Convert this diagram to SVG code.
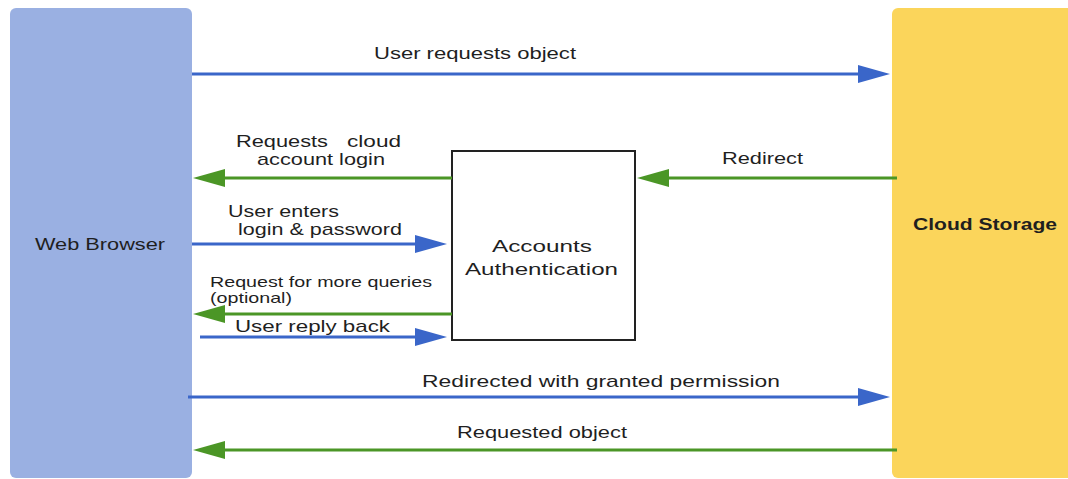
<svg xmlns="http://www.w3.org/2000/svg" width="1068" height="479" viewBox="0 0 1068 479">
  <style>
    text { font-family: "Liberation Sans", Arial, sans-serif; fill: #1f1f1f; }
    .lbl { font-size: 17px; }
    .sm { font-size: 14.5px; }
    .bold { font-weight: bold; }
    .blue { stroke: #3a66c9; stroke-width: 3; fill: none; }
    .green { stroke: #4b9626; stroke-width: 3; fill: none; }
  </style>
  <defs>
    <marker id="headBlue" markerUnits="userSpaceOnUse" markerWidth="32" markerHeight="18" refX="22" refY="9" orient="auto">
      <path d="M0,0 L32,9 L0,18 Z" fill="#3a66c9"/>
    </marker>
    <marker id="headGreen" markerUnits="userSpaceOnUse" markerWidth="32" markerHeight="18" refX="22" refY="9" orient="auto">
      <path d="M0,0 L32,9 L0,18 Z" fill="#4b9626"/>
    </marker>
  </defs>

  <rect width="1068" height="479" fill="#ffffff"/>

  <g id="web-browser">
    <rect x="10" y="8" width="182" height="470" rx="6" fill="#9ab0e2"/>
    <text class="lbl" x="35" y="250" textLength="130" lengthAdjust="spacingAndGlyphs">Web Browser</text>
  </g>

  <g id="cloud-storage">
    <rect x="892" y="8" width="190" height="470" rx="6" fill="#fbd55b"/>
    <text class="lbl bold" x="913" y="230" textLength="144" lengthAdjust="spacingAndGlyphs">Cloud Storage</text>
  </g>

  <g id="accounts-authentication">
    <rect x="452" y="151" width="183" height="189" fill="#ffffff" stroke="#222222" stroke-width="2"/>
    <text class="lbl" x="492" y="252" textLength="100" lengthAdjust="spacingAndGlyphs">Accounts</text>
    <text class="lbl" x="465" y="275" textLength="153" lengthAdjust="spacingAndGlyphs">Authentication</text>
  </g>

  <g id="connectors">
    <!-- browser asks storage for the object -->
    <line class="blue" x1="192" y1="74" x2="880" y2="74" marker-end="url(#headBlue)"/>
    <text class="lbl" x="374" y="59" textLength="202" lengthAdjust="spacingAndGlyphs">User requests object</text>

    <!-- storage redirects to authentication -->
    <line class="green" x1="897" y1="178" x2="647" y2="178" marker-end="url(#headGreen)"/>
    <text class="lbl" x="722" y="164" textLength="81" lengthAdjust="spacingAndGlyphs">Redirect</text>

    <!-- authentication asks for login -->
    <line class="green" x1="452" y1="178" x2="203" y2="178" marker-end="url(#headGreen)"/>
    <text class="lbl" y="147"><tspan x="236" textLength="92" lengthAdjust="spacingAndGlyphs">Requests</tspan><tspan x="347" textLength="54" lengthAdjust="spacingAndGlyphs">cloud</tspan></text>
    <text class="lbl" x="257" y="165" textLength="128" lengthAdjust="spacingAndGlyphs">account login</text>

    <!-- credentials -->
    <line class="blue" x1="192" y1="244" x2="437" y2="244" marker-end="url(#headBlue)"/>
    <text class="lbl" x="228" y="217" textLength="111" lengthAdjust="spacingAndGlyphs">User enters</text>
    <text class="lbl" x="238" y="235" textLength="164" lengthAdjust="spacingAndGlyphs">login &amp; password</text>

    <!-- optional extra queries -->
    <line class="green" x1="452" y1="314" x2="203" y2="314" marker-end="url(#headGreen)"/>
    <text class="sm" x="210" y="287" textLength="222" lengthAdjust="spacingAndGlyphs">Request for more queries</text>
    <text class="sm" x="210" y="303" textLength="82" lengthAdjust="spacingAndGlyphs">(optional)</text>

    <!-- reply -->
    <line class="blue" x1="200" y1="337" x2="437" y2="337" marker-end="url(#headBlue)"/>
    <text class="lbl" x="235" y="332" textLength="155" lengthAdjust="spacingAndGlyphs">User reply back</text>

    <!-- authorised request to storage -->
    <line class="blue" x1="188" y1="397" x2="880" y2="397" marker-end="url(#headBlue)"/>
    <text class="lbl" x="422" y="387" textLength="358" lengthAdjust="spacingAndGlyphs">Redirected with granted permission</text>

    <!-- object returned -->
    <line class="green" x1="897" y1="450" x2="203" y2="450" marker-end="url(#headGreen)"/>
    <text class="lbl" x="457" y="438" textLength="170" lengthAdjust="spacingAndGlyphs">Requested object</text>
  </g>
</svg>
